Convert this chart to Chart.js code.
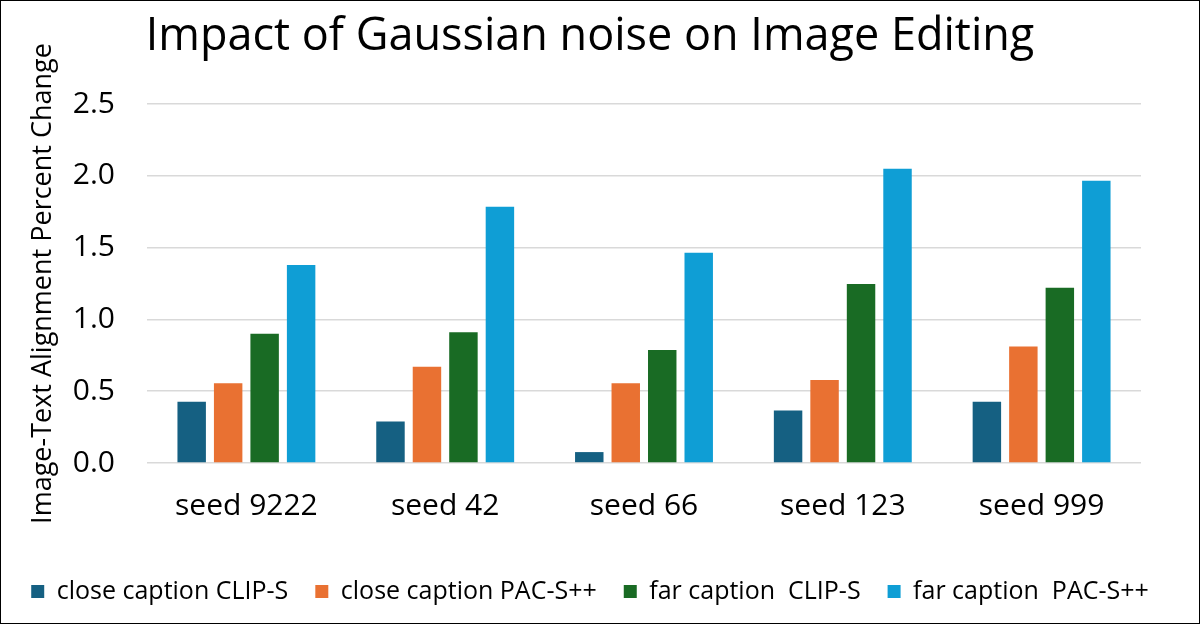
<!DOCTYPE html>
<html>
<head>
<meta charset="utf-8">
<script src="https://cdn.jsdelivr.net/npm/chart.js@4"></script>
<style>
  html, body { margin: 0; padding: 0; background: #ffffff; }
  #wrap { width: 1200px; height: 624px; box-sizing: border-box; border: 1px solid #000; background: #fff; }
  canvas { display: block; }
</style>
</head>
<body>
<div id="wrap"><canvas id="c" width="1198" height="622"></canvas></div>
<script>
const categories = ["seed 9222", "seed 42", "seed 66", "seed 123", "seed 999"];
const seriesNames = ["close caption CLIP-S", "close caption PAC-S++", "far caption  CLIP-S", "far caption  PAC-S++"];
const closeClip = [0.426, 0.289, 0.076, 0.365, 0.426];
const closePac  = [0.556, 0.671, 0.555, 0.578, 0.812];
const farClip   = [0.900, 0.910, 0.787, 1.247, 1.220];
const farPac    = [1.379, 1.785, 1.465, 2.049, 1.965];
const yTicks = [0, 0.5, 1.0, 1.5, 2.0, 2.5];
const colors = ["#156082", "#E97132", "#196B24", "#0F9ED5"];

const FONT = "'Open Sans', 'Liberation Sans', sans-serif";
const values = [closeClip, closePac, farClip, farPac];

new Chart(document.getElementById('c'), {
  type: 'bar',
  data: {
    labels: categories,
    datasets: seriesNames.map((n, i) => ({
      label: n,
      data: values[i],
      backgroundColor: colors[i],
      borderColor: colors[i],
      borderWidth: 0,
      categoryPercentage: 0.734,
      barPercentage: 0.78
    }))
  },
  options: {
    responsive: false,
    animation: false,
    devicePixelRatio: 1,
    layout: { padding: { left: 0, right: 20, top: 6, bottom: 9 } },
    plugins: {
      title: {
        display: true,
        text: "Impact of Gaussian noise on Image Editing",
        color: '#000',
        font: { family: FONT, size: 45, weight: 'normal' },
        padding: { top: 3, bottom: 40 }
      },
      legend: {
        position: 'bottom',
        labels: {
          color: '#000',
          font: { family: FONT, size: 25 },
          boxWidth: 13,
          boxHeight: 13,
          padding: 27
        }
      },
      tooltip: { enabled: false }
    },
    scales: {
      x: {
        afterFit: (s) => { s.height = 89; },
        grid: { display: false, drawTicks: false },
        border: { display: false },
        ticks: { color: '#000', font: { family: FONT, size: 30 }, padding: 25 }
      },
      y: {
        position: 'left',
        min: 0,
        max: 2.5,
        afterBuildTicks: (s) => { s.ticks = yTicks.map(v => ({ value: v })); },
        afterFit: (s) => { s.width = 146; },
        grid: { color: '#d9d9d9', lineWidth: 1.6, drawTicks: false },
        border: { display: false },
        ticks: {
          color: '#000',
          font: { family: FONT, size: 30 },
          padding: 32,
          callback: (v) => Number(v).toFixed(1)
        },
        title: {
          display: true,
          text: "Image-Text Alignment Percent Change",
          color: '#000',
          font: { family: FONT, size: 27 },
          padding: { top: 26, bottom: 0 }
        }
      },
      yRight: {
        position: 'right',
        display: true,
        min: 0,
        max: 2.5,
        afterFit: (s) => { s.width = 38; },
        grid: { display: false, drawTicks: false },
        border: { display: false },
        ticks: { display: false }
      }
    }
  }
});
</script>
</body>
</html>
